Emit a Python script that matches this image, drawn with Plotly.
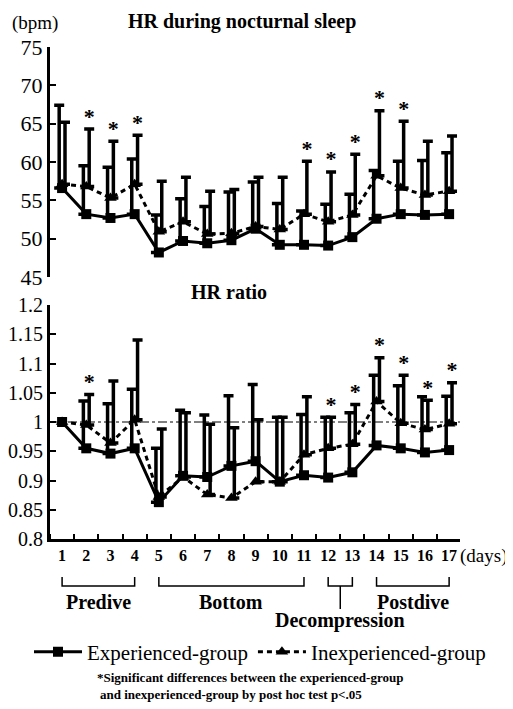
import plotly.graph_objects as go

# ---------------- data ----------------
days = list(range(1, 18))
day_labels = [str(d) for d in days]

hr_exp = [56.6, 53.2, 52.7, 53.2, 48.2, 49.7, 49.4, 49.8, 51.3, 49.2, 49.2, 49.1, 50.2, 52.6, 53.2, 53.1, 53.2]
hr_inexp = [57.1, 56.8, 55.3, 57.1, 50.9, 52.2, 50.6, 50.7, 51.6, 51.2, 53.2, 52.2, 53.1, 58.2, 56.6, 55.7, 56.2]
hr_exp_upper = [67.4, 59.5, 59.3, 60.4, 53.1, 55.2, 54.2, 56.1, 57.4, 54.6, 53.6, 54.5, 55.8, 58.9, 60.1, 60.2, 61.2]
hr_inexp_upper = [65.2, 64.3, 62.7, 63.5, 57.5, 58.0, 56.2, 56.4, 58.0, 58.0, 60.1, 58.7, 61.0, 66.7, 65.3, 62.7, 63.4]
hr_sig_days = [2, 3, 4, 11, 12, 13, 14, 15]

ratio_exp = [1.0, 0.955, 0.946, 0.955, 0.863, 0.908, 0.906, 0.925, 0.933, 0.898, 0.909, 0.905, 0.914, 0.960, 0.955, 0.948, 0.952]
ratio_inexp = [1.0, 0.995, 0.964, 1.004, 0.872, 0.906, 0.876, 0.870, 0.898, 0.898, 0.944, 0.955, 0.962, 1.035, 0.998, 0.987, 0.997]
ratio_exp_upper = [None, 1.036, 1.031, 1.056, 0.955, 1.020, 1.012, 1.045, 1.064, 1.008, 1.013, 1.008, 1.016, 1.080, 1.062, 1.043, 1.044]
ratio_inexp_upper = [None, 1.047, 1.070, 1.140, 0.988, 1.016, 0.996, 0.990, 1.004, 1.008, 1.043, 1.008, 1.030, 1.110, 1.080, 1.037, 1.067]
ratio_sig_days = [2, 12, 13, 14, 15, 16, 17]

hr_ticks = [45, 50, 55, 60, 65, 70, 75]
ratio_ticks = [0.8, 0.85, 0.9, 0.95, 1.0, 1.05, 1.1, 1.15, 1.2]
ratio_tick_labels = ["0.8", "0.85", "0.9", "0.95", "1", "1.05", "1.1", "1.15", "1.2"]

phases = [("Predive", 1, 4), ("Bottom", 5, 11), ("Decompression", 12, 13), ("Postdive", 14, 17)]

# ---------------- layout helpers ----------------
# the page body has an 8px margin: size the figure to fit the 513x709 window
OFF = 8
W, H = 513 - OFF, 709 - OFF
SERIF = "Liberation Serif"
BAR_OFF = 0.12


def py(px):
    return 1 - (px - OFF) / H


def px_x(px):
    return (px - OFF) / W


fig = go.Figure()


def add_bars(xaxis, yaxis, means, uppers, offset):
    xs, ys, errs = [], [], []
    for d, m, u in zip(days, means, uppers):
        if u is None:
            continue
        xs.append(d + offset)
        ys.append(m)
        errs.append(u - m)
    fig.add_trace(go.Scatter(
        x=xs, y=ys, xaxis=xaxis, yaxis=yaxis, mode="markers",
        marker=dict(size=1, color="rgba(0,0,0,0)"),
        error_y=dict(type="data", symmetric=False, array=errs,
                     arrayminus=[0] * len(errs), color="black",
                     thickness=3.5, width=5),
        showlegend=False, hoverinfo="skip"))


def add_series(xaxis, yaxis, exp, inexp, legend):
    fig.add_trace(go.Scatter(
        x=days, y=exp, xaxis=xaxis, yaxis=yaxis, mode="lines+markers",
        name="Experienced-group", line=dict(color="black", width=3),
        marker=dict(symbol="square", size=10, color="black"),
        showlegend=legend, hoverinfo="skip"))
    fig.add_trace(go.Scatter(
        x=days, y=inexp, xaxis=xaxis, yaxis=yaxis, mode="lines+markers",
        name="Inexperienced-group",
        line=dict(color="black", width=3, dash="5px,4px"),
        marker=dict(symbol="triangle-up", size=11, color="black"),
        showlegend=legend, hoverinfo="skip"))


def add_stars(xaxis, yaxis, sig, uppers):
    xs = [d + BAR_OFF for d in sig]
    ys = [uppers[days.index(d)] for d in sig]
    fig.add_trace(go.Scatter(
        x=xs, y=ys, xaxis=xaxis, yaxis=yaxis, mode="text", text=["*"] * len(xs),
        textposition="top center",
        textfont=dict(family=SERIF, size=22, color="black", weight="bold"),
        showlegend=False, hoverinfo="skip", cliponaxis=False))


# top chart
add_bars("x", "y", hr_exp, hr_exp_upper, -BAR_OFF)
add_bars("x", "y", hr_inexp, hr_inexp_upper, BAR_OFF)
add_series("x", "y", hr_exp, hr_inexp, True)
add_stars("x", "y", hr_sig_days, hr_inexp_upper)

# bottom chart
add_bars("x2", "y2", ratio_exp, ratio_exp_upper, -BAR_OFF)
add_bars("x2", "y2", ratio_inexp, ratio_inexp_upper, BAR_OFF)
add_series("x2", "y2", ratio_exp, ratio_inexp, False)
add_stars("x2", "y2", ratio_sig_days, ratio_inexp_upper)

xdom = [px_x(50), px_x(460)]
xrange = [0.5, 17.45]

shapes = [
    dict(type="line", xref="x2 domain", x0=0, x1=1, yref="y2", y0=1, y1=1,
         line=dict(color="black", width=1, dash="dashdot"), layer="below"),
]


def ann(text, x, y, size, bold=False, xanchor="center", xref="paper"):
    return dict(text=text, x=x, y=y, xref=xref, yref="paper", xanchor=xanchor,
                yanchor="middle", showarrow=False,
                font=dict(family=SERIF, size=size, color="black",
                          weight="bold" if bold else "normal"))


annotations = [
    ann("HR during nocturnal sleep", px_x(242), py(21), 20, True),
    ann("HR ratio", px_x(229), py(292), 20, True),
    ann("(bpm)", px_x(35), py(23), 19),
    ann("(days)", px_x(458), py(556), 19, xanchor="left"),
    ann("*Significant differences between the experienced-group", px_x(95), py(677), 13, True, "left"),
    ann("and inexperienced-group by post hoc test p<.05", px_x(98), py(694), 13, True, "left"),
]

b_top, b_bot = py(577), py(586)
for name, d0, d1 in phases:
    shapes.append(dict(type="path", xref="x2", yref="paper",
                       path=f"M {d0},{b_top} L {d0},{b_bot} L {d1},{b_bot} L {d1},{b_top}",
                       line=dict(color="black", width=1.5)))
    mid = (d0 + d1) / 2
    if name == "Decompression":
        shapes.append(dict(type="line", xref="x2", yref="paper", x0=mid, x1=mid,
                           y0=b_bot, y1=py(609), line=dict(color="black", width=1.5)))
        ly = py(620)
    else:
        ly = py(602)
    annotations.append(ann(name, mid, ly, 20, True, xref="x2"))

fig.update_layout(
    width=W, height=H, autosize=False,
    margin=dict(l=0, r=0, t=0, b=0, pad=0, autoexpand=False),
    paper_bgcolor="white", plot_bgcolor="white",
    showlegend=True,
    legend=dict(orientation="h", x=px_x(29), xanchor="left", y=py(652), yanchor="middle",
                font=dict(family=SERIF, size=21, color="black"), itemwidth=48,
                bgcolor="rgba(0,0,0,0)"),
    xaxis=dict(domain=xdom, range=xrange, anchor="y", showline=False, showticklabels=False,
               ticks="", showgrid=False, zeroline=False, automargin=False),
    yaxis=dict(domain=[py(277), py(47)], range=[45, 75], anchor="x", tickvals=hr_ticks,
               ticks="inside", ticklen=6, tickwidth=2, tickcolor="black",
               showline=True, linewidth=3, linecolor="black", showgrid=False, zeroline=False,
               automargin=False,
               tickfont=dict(family=SERIF, size=22, color="black")),
    xaxis2=dict(domain=xdom, range=xrange, anchor="y2", showline=True, linewidth=3,
                linecolor="black", tickvals=days, ticktext=day_labels, ticks="",
                minor=dict(ticks="inside", tick0=0.5, dtick=1, ticklen=5, tickwidth=2,
                           tickcolor="black", showgrid=False),
                showgrid=False, zeroline=False, ticklabelstandoff=0, automargin=False,
                tickfont=dict(family=SERIF, size=16, color="black", weight="bold")),
    yaxis2=dict(domain=[py(539), py(305)], range=[0.8, 1.2], anchor="x2", tickvals=ratio_ticks,
                ticktext=ratio_tick_labels, ticks="inside", ticklen=6, tickwidth=2,
                tickcolor="black", showline=True, linewidth=3, linecolor="black",
                showgrid=False, zeroline=False, automargin=False,
                tickfont=dict(family=SERIF, size=20, color="black")),
    shapes=shapes, annotations=annotations,
)

fig.write_html("out.html")
